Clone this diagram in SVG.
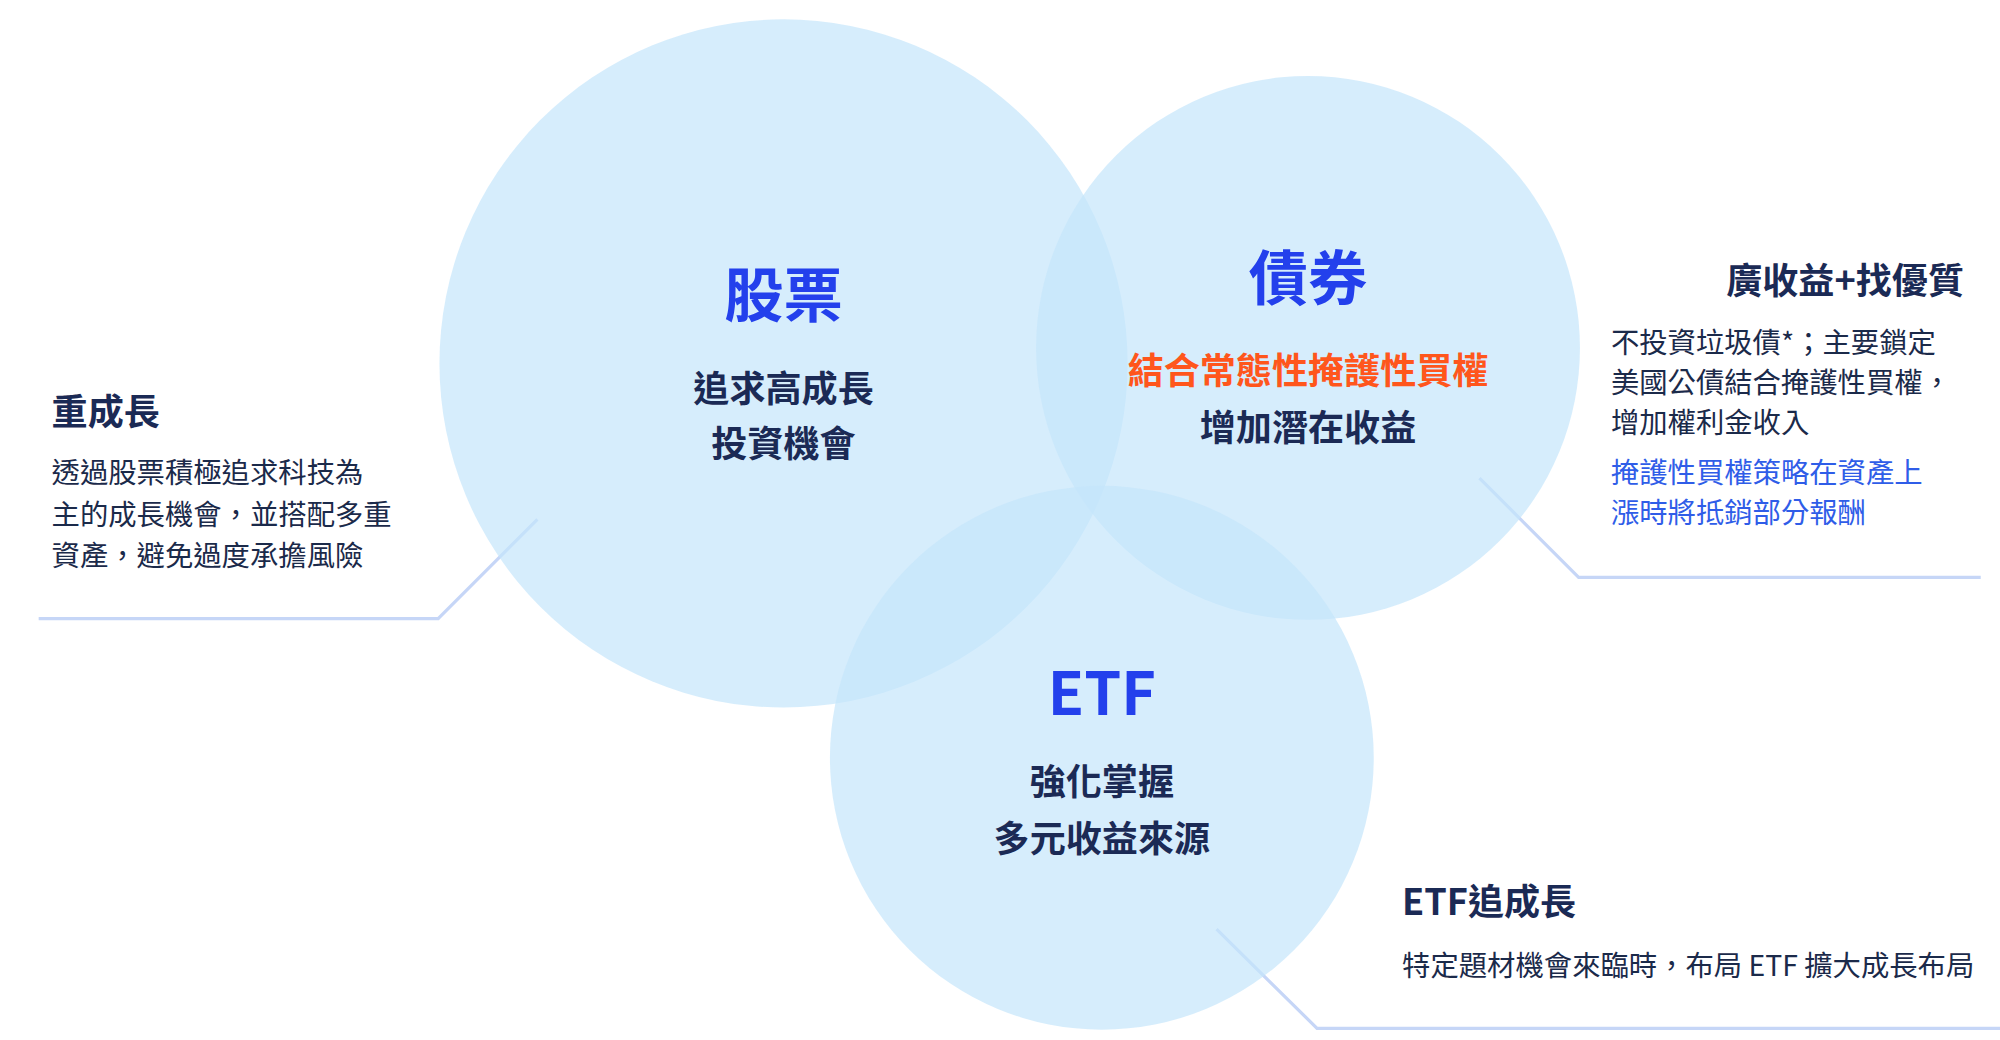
<svg xmlns="http://www.w3.org/2000/svg" width="2000" height="1040" viewBox="0 0 2000 1040">
<style>
text{font-family:"Noto Sans CJK TC","Noto Sans",sans-serif}
.c{fill:#c4e6fb;opacity:0.7}
.h{font-size:46px;font-weight:700;fill:#2340ec;text-anchor:middle}
.s{font-size:28px;font-weight:700;fill:#1b2a55;text-anchor:middle}
.t{font-size:28px;font-weight:700;fill:#1b2a55}
.b{font-size:22px;fill:#1b2a4a}
.bl{font-size:22px;fill:#2f5de8}
.ln{fill:none;stroke:#c6d6f7;stroke-width:2.5}
</style>
<rect width="2000" height="1040" fill="#fff"/>
<g transform="scale(1.2887)">
<g id="connectors">
<polyline class="ln" points="417,403 340,480 30,480"/>
<polyline class="ln" points="1148,371 1225,448 1537,448"/>
<polyline class="ln" points="944,721 1022,798 1552,798"/>
</g>
<g id="stock"><circle class="c" cx="608" cy="282" r="267"/>
<text class="h" x="608" y="246">股票</text>
<text class="s" x="608" y="312">追求高成長</text>
<text class="s" x="608" y="355">投資機會</text></g>
<g id="bond"><circle class="c" cx="1015" cy="270" r="211"/>
<text class="h" x="1015" y="233">債券</text>
<text class="s" x="1015" y="298" style="fill:#ff561c">結合常態性掩護性買權</text>
<text class="s" x="1015" y="342">增加潛在收益</text></g>
<g id="etf"><circle class="c" cx="855" cy="588" r="211"/>
<text class="h" x="855" y="555">ETF</text>
<text class="s" x="855" y="617">強化掌握</text>
<text class="s" x="855" y="661">多元收益來源</text></g>
<g id="note-growth">
<text class="t" x="40" y="330">重成長</text>
<text class="b" x="40" y="375">透過股票積極追求科技為</text>
<text class="b" x="40" y="407">主的成長機會，並搭配多重</text>
<text class="b" x="40" y="439">資產，避免過度承擔風險</text></g>
<g id="note-income">
<text class="t" x="1524" y="228" text-anchor="end">廣收益+找優質</text>
<text class="b" x="1250" y="274">不投資垃圾債*；主要鎖定</text>
<text class="b" x="1250" y="305">美國公債結合掩護性買權，</text>
<text class="b" x="1250" y="336">增加權利金收入</text>
<text class="bl" x="1250" y="375">掩護性買權策略在資產上</text>
<text class="bl" x="1250" y="406">漲時將抵銷部分報酬</text></g>
<g id="note-etf">
<text class="t" x="1088" y="710">ETF追成長</text>
<text class="b" x="1088" y="757">特定題材機會來臨時，布局 ETF 擴大成長布局</text></g>
</g>
</svg>
